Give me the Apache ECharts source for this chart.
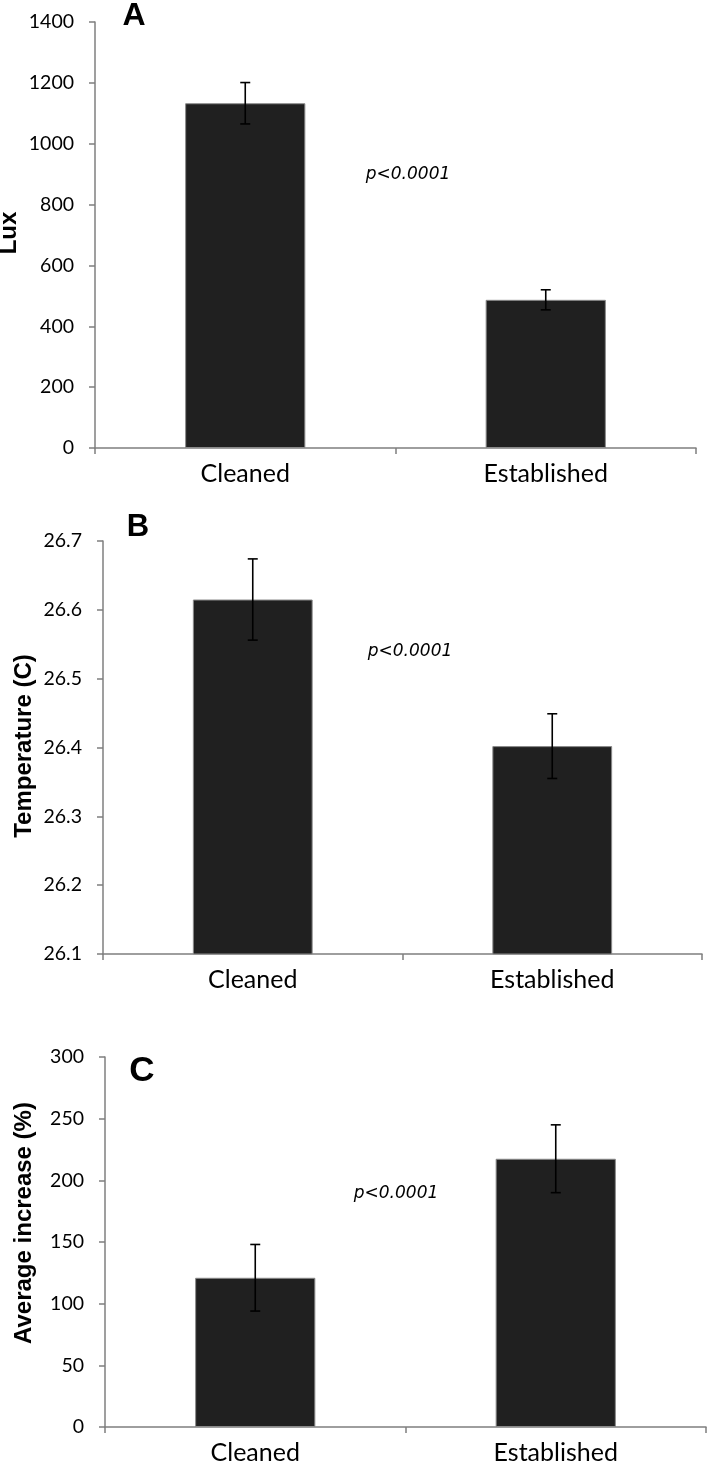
<!DOCTYPE html>
<html>
<head>
<meta charset="utf-8">
<script src="https://cdn.jsdelivr.net/npm/echarts@6/dist/echarts.min.js"></script>
<style>
html,body{margin:0;padding:0;background:#fff;}
#chart{width:708px;height:1465px;}
</style>
</head>
<body>
<div id="chart"></div>
<script>
// ---- data ----
const categories = ['Cleaned', 'Established'];
const luxMean = [1133, 487];
const luxErr = [68, 33];
const tempMean = [26.615, 26.402];
const tempErr = [0.059, 0.047];
const incMean = [121, 217.5];
const incErr = [27, 27.5];
const luxTicks = {min: 0, max: 1400, interval: 200};
const tempTicks = {min: 26.1, max: 26.7, interval: 0.1};
const incTicks = {min: 0, max: 300, interval: 50};
const panelLetters = ['A', 'B', 'C'];
const axisNames = ['Lux', 'Temperature (C)', 'Average increase (%)'];
const pText = 'p<0.0001';

const chart = echarts.init(document.getElementById('chart'), null, {renderer: 'canvas'});

const axisColor = '#7f7f7f';
const grids = [
  {left: 95, right: 12, top: 22, height: 426},
  {left: 103, right: 6, top: 541, height: 413},
  {left: 105, right: 2, top: 1057, height: 371}
];

function xAxis(i) {
  return {
    type: 'category', gridIndex: i, data: categories,
    axisLine: {lineStyle: {color: axisColor, width: 1.5}},
    axisTick: {show: true, alignWithLabel: false, length: 6, lineStyle: {color: axisColor, width: 1.5}},
    axisLabel: {color: '#000', fontFamily: 'Lato', fontSize: 25, margin: 13}
  };
}
function yAxis(i, t, fmt) {
  return {
    type: 'value', gridIndex: i, min: t.min, max: t.max, interval: t.interval,
    axisLine: {show: true, lineStyle: {color: axisColor, width: 1.5}},
    axisTick: {show: true, length: 6, lineStyle: {color: axisColor, width: 1.5}},
    splitLine: {show: false},
    axisLabel: {color: '#000', fontFamily: 'Lato', fontSize: 19.5, margin: 21, formatter: fmt}
  };
}
function bars(i, data) {
  return {
    type: 'bar', xAxisIndex: i, yAxisIndex: i, data: data, barWidth: '40%',
    clip: true, silent: true,
    itemStyle: {color: '#202020', borderColor: '#8a8a8a', borderWidth: 1}
  };
}
function errs(i, mean, err) {
  return {
    type: 'custom', xAxisIndex: i, yAxisIndex: i, silent: true, z: 5,
    data: mean.map((m, k) => [k, m - err[k], m + err[k]]),
    renderItem: function (params, api) {
      const lo = api.coord([api.value(0), api.value(1)]);
      const hi = api.coord([api.value(0), api.value(2)]);
      const cap = 5;
      const st = {stroke: '#000', lineWidth: 1.6};
      return {type: 'group', children: [
        {type: 'line', shape: {x1: lo[0], y1: lo[1], x2: hi[0], y2: hi[1]}, style: st},
        {type: 'line', shape: {x1: hi[0] - cap, y1: hi[1], x2: hi[0] + cap, y2: hi[1]}, style: st},
        {type: 'line', shape: {x1: lo[0] - cap, y1: lo[1], x2: lo[0] + cap, y2: lo[1]}, style: st}
      ]};
    }
  };
}

const letterStyle = {fill: '#000', fontFamily: 'Liberation Sans', fontWeight: 'bold', align: 'center', verticalAlign: 'middle'};
const nameStyle = {fill: '#000', fontFamily: 'Liberation Sans', fontWeight: 'bold', fontSize: 24, align: 'center', verticalAlign: 'middle'};
const pStyle = {fill: '#000', fontFamily: 'DejaVu Sans', fontStyle: 'italic', fontSize: 17, align: 'center', verticalAlign: 'middle'};

const option = {
  animation: false,
  backgroundColor: '#fff',
  grid: grids,
  xAxis: [xAxis(0), xAxis(1), xAxis(2)],
  yAxis: [
    yAxis(0, luxTicks, v => String(v)),
    yAxis(1, tempTicks, v => v.toFixed(1)),
    yAxis(2, incTicks, v => String(v))
  ],
  series: [
    bars(0, luxMean), errs(0, luxMean, luxErr),
    bars(1, tempMean), errs(1, tempMean, tempErr),
    bars(2, incMean), errs(2, incMean, incErr)
  ],
  graphic: [
    {type: 'text', x: 134, y: 16, style: Object.assign({text: panelLetters[0], fontSize: 32}, letterStyle)},
    {type: 'text', x: 138, y: 527, style: Object.assign({text: panelLetters[1], fontSize: 31}, letterStyle)},
    {type: 'text', x: 142, y: 1071, style: Object.assign({text: panelLetters[2], fontSize: 35}, letterStyle)},
    {type: 'text', x: 9, y: 233, rotation: Math.PI / 2, style: Object.assign({text: axisNames[0]}, nameStyle)},
    {type: 'text', x: 24, y: 746, rotation: Math.PI / 2, style: Object.assign({text: axisNames[1]}, nameStyle)},
    {type: 'text', x: 24, y: 1223, rotation: Math.PI / 2, style: Object.assign({text: axisNames[2]}, nameStyle)},
    {type: 'text', x: 408, y: 175, style: Object.assign({text: pText}, pStyle)},
    {type: 'text', x: 410, y: 652, style: Object.assign({text: pText}, pStyle)},
    {type: 'text', x: 396, y: 1194, style: Object.assign({text: pText}, pStyle)}
  ]
};
chart.setOption(option);
</script>
</body>
</html>
